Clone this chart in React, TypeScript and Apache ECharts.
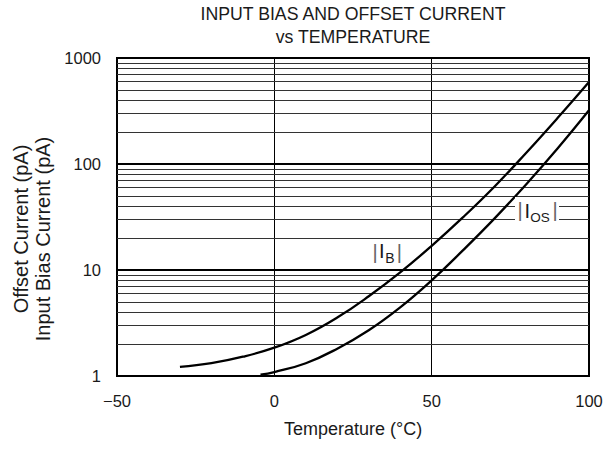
import React, { useEffect, useRef } from "react";
import * as echarts from "echarts";

// ---- data ----
const IB_T = [-30, -20, -10, 0, 10, 20, 30, 40, 50, 60, 70, 80, 90, 100];
const IB_V = [1.22, 1.32, 1.52, 1.85, 2.44, 3.56, 5.65, 9.49, 16.9, 31.5, 61.4, 127, 271, 593];

const IOS_T = [-4.4, 0, 10, 20, 30, 40, 50, 60, 70, 80, 90, 100];
const IOS_V = [1.03, 1.09, 1.32, 1.81, 2.7, 4.44, 7.98, 15.4, 30.7, 64.1, 140, 321];

const X_MIN = -50;
const X_MAX = 100;
const X_STEP = 50;
const Y_TICKS = [1, 10, 100, 1000];
const MINOR_MULT = [2, 3, 4, 5, 6, 7, 8, 9];
const DECADES = [1, 10, 100];

const TITLE = "INPUT BIAS AND OFFSET CURRENT";
const SUBTITLE = "vs TEMPERATURE";
const X_NAME = "Temperature (°C)";
const Y_NAME_OUTER = "Offset Current (pA)";
const Y_NAME_INNER = "Input Bias Current (pA)";

const FONT = "'Liberation Sans', Arial, Helvetica, sans-serif";
const TXT = "#1a1a1a";

function zip(t: number[], v: number[]) {
  return t.map((x, i) => [x, v[i]]);
}

export default function App() {
  const ref = useRef<HTMLDivElement>(null);
  useEffect(() => {
    if (!ref.current) return;
    const chart = echarts.init(ref.current, undefined, { renderer: "svg" });
    const minor: number[] = [];
    DECADES.forEach((d) => MINOR_MULT.forEach((m) => minor.push(d * m)));

    const barStyle = { fontSize: 20, fontFamily: FONT, fill: "#666", align: "center", verticalAlign: "middle" };
    const mainStyle = { fontSize: 20, fontFamily: FONT, fill: TXT, align: "center", verticalAlign: "middle" };
    const subStyle = { fontSize: 14, fontFamily: FONT, fill: TXT, align: "center", verticalAlign: "middle" };

    chart.setOption({
      animation: false,
      backgroundColor: "#fff",
      grid: {
        left: 117,
        right: 21,
        top: 58,
        bottom: 73,
        show: true,
        borderColor: "#000",
        borderWidth: 2,
      },
      xAxis: {
        type: "value",
        min: X_MIN,
        max: X_MAX,
        interval: X_STEP,
        axisLine: { show: false },
        axisTick: { show: false },
        splitLine: { show: true, lineStyle: { color: "#000", width: 1 } },
        axisLabel: {
          margin: 16,
          fontSize: 16.5,
          color: TXT,
          fontFamily: FONT,
          formatter: (v: number) => String(v).replace("-", "\u2212"),
        },
        name: X_NAME,
        nameLocation: "middle",
        nameGap: 44,
        nameTextStyle: { fontSize: 18, color: TXT, fontFamily: FONT },
      },
      yAxis: {
        type: "log",
        logBase: 10,
        min: Y_TICKS[0],
        max: Y_TICKS[Y_TICKS.length - 1],
        axisLine: { show: false },
        axisTick: { show: false },
        splitLine: { show: true, lineStyle: { color: "#000", width: 2 } },
        axisLabel: {
          margin: 16,
          fontSize: 16.5,
          color: TXT,
          fontFamily: FONT,
          formatter: (v: number) => String(Math.round(v)),
        },
      },
      series: [
        {
          type: "line",
          data: [],
          z: 1,
          silent: true,
          markLine: {
            silent: true,
            symbol: ["none", "none"],
            label: { show: false },
            lineStyle: { color: "#333", width: 1, type: "solid" },
            data: minor.map((v) => ({ yAxis: v })),
          },
        },
        {
          name: "IB",
          type: "line",
          data: zip(IB_T, IB_V),
          smooth: 0.45,
          showSymbol: false,
          z: 5,
          lineStyle: { color: "#000", width: 2.3 },
        },
        {
          name: "IOS",
          type: "line",
          data: zip(IOS_T, IOS_V),
          smooth: 0.45,
          showSymbol: false,
          z: 5,
          lineStyle: { color: "#000", width: 2.3 },
        },
      ],
      graphic: [
        {
          type: "text",
          z: 100,
          x: 353,
          y: 14,
          style: { text: TITLE, fontSize: 17.7, fontFamily: FONT, fill: TXT, align: "center", verticalAlign: "middle" },
        },
        {
          type: "text",
          z: 100,
          x: 353,
          y: 37,
          style: { text: SUBTITLE, fontSize: 17.7, fontFamily: FONT, fill: TXT, align: "center", verticalAlign: "middle" },
        },
        {
          type: "text",
          z: 100,
          x: 20.5,
          y: 229,
          rotation: Math.PI / 2,
          style: { text: Y_NAME_OUTER, fontSize: 20, fontFamily: FONT, fill: TXT, align: "center", verticalAlign: "middle" },
        },
        {
          type: "text",
          z: 100,
          x: 42.5,
          y: 239,
          rotation: Math.PI / 2,
          style: { text: Y_NAME_INNER, fontSize: 20, fontFamily: FONT, fill: TXT, align: "center", verticalAlign: "middle" },
        },
        // |IB| label
        { type: "text", z: 100, x: 375, y: 251.7, style: { ...barStyle, text: "|" } },
        { type: "text", z: 100, x: 381.7, y: 251, style: { ...mainStyle, text: "I" } },
        { type: "text", z: 100, x: 390, y: 257.5, style: { ...subStyle, text: "B" } },
        { type: "text", z: 100, x: 399.3, y: 251.7, style: { ...barStyle, text: "|" } },
        // |IOS| label
        { type: "rect", z: 99, shape: { x: 515, y: 197, width: 44, height: 28 }, style: { fill: "#fff" } },
        { type: "text", z: 100, x: 520, y: 210, style: { ...barStyle, text: "|" } },
        { type: "text", z: 100, x: 527.3, y: 210.5, style: { ...mainStyle, text: "I" } },
        { type: "text", z: 100, x: 540, y: 217, style: { ...subStyle, fontSize: 13.5, text: "OS" } },
        { type: "text", z: 100, x: 555, y: 210, style: { ...barStyle, text: "|" } },
      ],
    });
    return () => chart.dispose();
  }, []);
  return <div ref={ref} style={{ position: "absolute", left: 0, top: 0, width: 610, height: 449 }} />;
}
